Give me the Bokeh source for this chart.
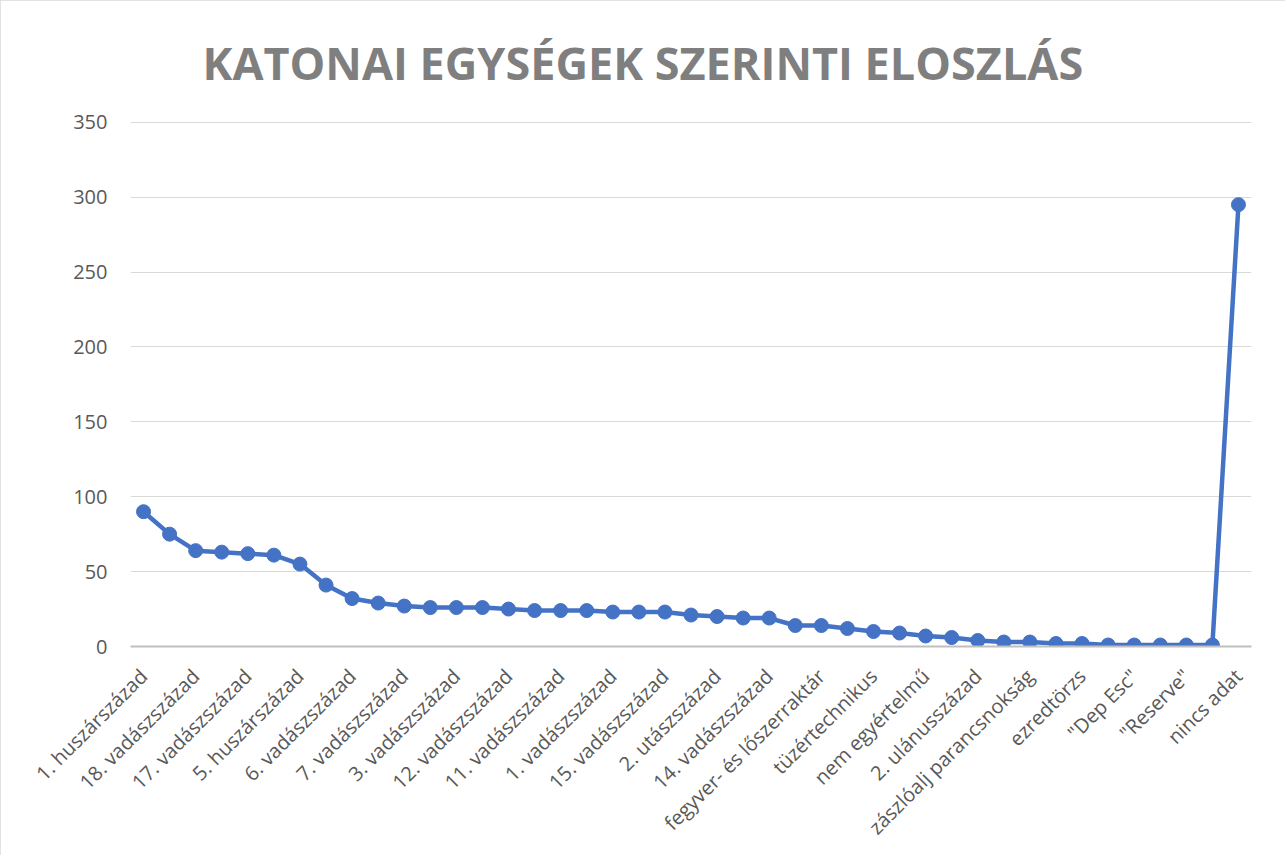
import math
from bokeh.plotting import figure
from bokeh.models import ColumnDataSource, FixedTicker, Range1d
from bokeh.embed import file_html
from bokeh.resources import INLINE

# Data (43 categories; only every second label is shown on the axis, as in the reference)
shown_labels = [
    "1. huszárszázad", "18. vadászszázad", "17. vadászszázad", "5. huszárszázad",
    "6. vadászszázad", "7. vadászszázad", "3. vadászszázad", "12. vadászszázad",
    "11. vadászszázad", "1. vadászszázad", "15. vadászszázad", "2. utászszázad",
    "14. vadászszázad", "fegyver- és lőszerraktár", "tüzértechnikus", "nem egyértelmű",
    "2. ulánusszázad", "zászlóalj parancsnokság", "ezredtörzs", "\"Dep Esc\"",
    "\"Reserve\"", "nincs adat",
]
counts = [90, 75, 64, 63, 62, 61, 55, 41, 32, 29, 27, 26, 26, 26, 25, 24, 24, 24,
          23, 23, 23, 21, 20, 19, 19, 14, 14, 12, 10, 9, 7, 6, 4, 3, 3, 2, 2,
          1, 1, 1, 1, 1, 295]
y_ticks = [0, 50, 100, 150, 200, 250, 300, 350]
title_text = "KATONAI EGYSÉGEK SZERINTI ELOSZLÁS"

positions = list(range(len(counts)))
label_positions = positions[::2]
overrides = {p_: lab for p_, lab in zip(label_positions, shown_labels)}

W, H = 1285, 855
p = figure(width=W, height=H, output_backend="svg", toolbar_location=None,
           x_range=Range1d(-0.5, len(counts) - 0.5), y_range=Range1d(0, 350.5),
           min_border_left=130, min_border_right=34, min_border_top=120,
           min_border_bottom=209,
           styles={"outline": "1px solid #d9d9d9", "outline-offset": "-1px"})
p.outline_line_color = None
p.background_fill_color = "white"
p.border_fill_color = "white"

# title
p.title.text = title_text
p.title.align = "left"
p.title.text_font = "Open Sans"
p.title.text_font_style = "bold"
p.title.text_font_size = "45px"
p.title.text_color = "#7f7f7f"
p.title.offset = 72
p.title.standoff = 58

src = ColumnDataSource(dict(x=positions, y=counts))
p.line("x", "y", source=src, line_color="#4472C4", line_width=4.5, line_join="round")
p.scatter("x", "y", source=src, size=14, fill_color="#4472C4", line_color="#4472C4")

# grid
p.xgrid.grid_line_color = None
p.ygrid.grid_line_color = "#d9d9d9"
p.ygrid.grid_line_width = 1.2

# y axis
p.yaxis.ticker = FixedTicker(ticks=y_ticks)
p.yaxis.axis_line_color = None
p.yaxis.major_tick_line_color = None
p.yaxis.minor_tick_line_color = None
p.yaxis.major_label_text_font = "Open Sans"
p.yaxis.major_label_text_font_size = "20px"
p.yaxis.major_label_text_color = "#595959"
p.yaxis.major_label_standoff = 17

# x axis
p.xaxis.ticker = FixedTicker(ticks=label_positions)
p.xaxis.major_label_overrides = overrides
p.xaxis.major_label_orientation = math.pi / 4
p.xaxis.axis_line_color = "#bfbfbf"
p.xaxis.axis_line_width = 2
p.xaxis.major_tick_line_color = None
p.xaxis.minor_tick_line_color = None
p.xaxis.major_label_text_font = "Open Sans"
p.xaxis.major_label_text_font_size = "20px"
p.xaxis.major_label_text_color = "#595959"
p.xaxis.major_label_standoff = 20

open("out.html", "w").write(file_html(p, INLINE))
